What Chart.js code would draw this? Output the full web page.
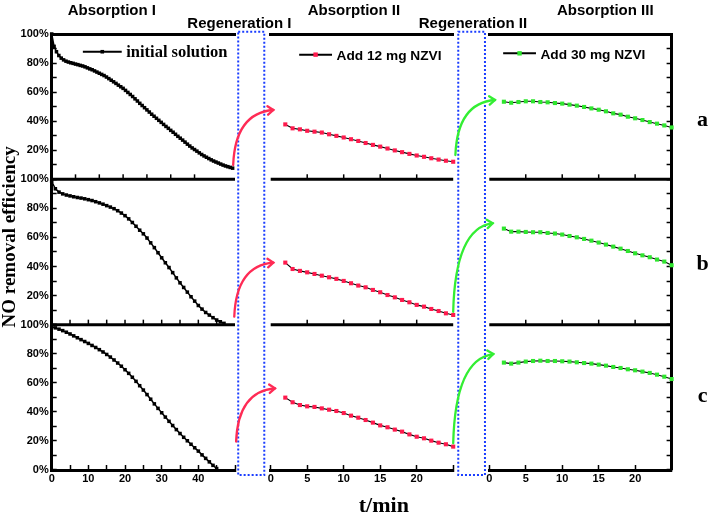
<!DOCTYPE html>
<html><head><meta charset="utf-8">
<script src="https://cdn.jsdelivr.net/npm/chart.js@4.4.0/dist/chart.umd.min.js"></script>
<style>html,body{margin:0;padding:0;background:#fff;}#wrap{position:relative;width:710px;height:523px;}canvas{display:block;}</style>
</head><body><div id="wrap"><canvas id="c" width="710" height="523"></canvas></div>
<script>
// ---------- DATA ----------
const tA1 = [0,1,2,3,4,5,6,7,8,9,10,11,12,13,14,15,16,17,18,19,20,21,22,23,24,25,26,27,28,29,30,31,32,33,34,35,36,37,38,39,40,41,42,43,44,45,46,47,48,49,50,51,52,53,54,55,56,57,58,59,60,61,62,63,64,65,66,67,68,69,70,71,72,73,74,75,76];
const tB1 = [0,1,2,3,4,5,6,7,8,9,10,11,12,13,14,15,16,17,18,19,20,21,22,23,24,25,26,27,28,29,30,31,32,33,34,35,36,37,38,39,40,41,42,43,44,45,46,47];
const tC1 = [0,1,2,3,4,5,6,7,8,9,10,11,12,13,14,15,16,17,18,19,20,21,22,23,24,25,26,27,28,29,30,31,32,33,34,35,36,37,38,39,40,41,42,43,44,45];
const tSeg = [2,3,4,5,6,7,8,9,10,11,12,13,14,15,16,17,18,19,20,21,22,23,24,25];

// panel a
const aInitial = [100,91.5,87.8,85.2,83.4,82.2,81.3,80.7,80.2,79.8,79.3,78.9,78.4,78.0,77.4,76.7,76.0,75.4,74.6,73.8,73.0,72.2,71.4,70.4,69.3,68.2,67.1,66.0,64.8,63.7,62.6,61.2,59.8,58.4,57.0,55.4,53.9,52.3,50.8,49.3,47.8,46.3,44.8,43.4,42.0,40.6,39.2,37.8,36.4,35.1,33.7,32.4,31.0,29.6,28.3,27.0,25.6,24.2,22.9,21.6,20.5,19.4,18.2,17.1,16.1,15.2,14.3,13.4,12.6,11.9,11.2,10.5,9.8,9.2,8.7,8.2,7.7];
const a12mg = [37.8,35.1,34.4,33.4,32.8,32.2,31.0,29.9,28.8,27.6,26.4,25.0,23.7,22.5,21.2,19.9,18.7,17.5,16.4,15.5,14.5,13.6,12.8,12.1];
const a30mg = [53.4,52.7,53.2,53.7,53.7,53.2,53.0,52.5,52.1,51.4,50.7,49.8,48.8,47.9,46.8,45.4,44.5,43.1,42.0,40.8,39.4,38.3,37.1,35.7];
// panel b
const bInitial = [98.5,93.5,91.2,90.0,89.2,88.6,88.0,87.5,87.1,86.6,86.0,85.4,84.6,83.8,82.9,81.9,80.9,79.8,78.4,76.8,75.0,72.8,70.3,67.7,65.0,62.5,59.6,56.3,53.0,49.5,46.0,42.6,39.3,35.8,32.2,28.8,25.6,22.4,19.2,16.2,13.2,10.7,8.4,6.6,4.8,3.2,2.0,0.9];
const b12mg = [42.7,38.3,37.0,36.0,34.9,33.7,32.6,31.5,30.1,28.5,26.9,25.7,23.9,22.3,20.4,18.8,17.0,15.4,13.6,12.4,10.8,9.4,7.8,6.7];
const b30mg = [66.1,64.0,64.0,63.8,63.6,63.6,63.1,62.7,62.0,61.0,60.1,59.0,57.8,56.5,55.1,53.7,52.3,50.7,49.1,47.7,46.4,44.8,43.4,40.9];
// panel c
const cInitial = [98.5,97.8,96.9,95.9,94.8,93.6,92.3,91.0,89.7,88.4,87.1,85.7,84.3,82.8,81.2,79.5,77.7,75.7,73.6,71.4,69.0,66.5,63.8,61.0,58.0,55.0,51.9,48.7,45.5,42.4,39.4,36.4,33.5,30.6,27.8,25.1,22.5,20.1,17.7,15.3,13.0,10.4,8.0,5.6,3.2,1.0];
const c12mg = [49.8,46.6,44.7,43.8,43.4,42.4,41.5,40.6,39.2,37.4,36.0,34.4,32.6,30.7,29.4,27.8,26.4,24.5,22.9,21.8,20.2,18.8,17.7,16.1];
const c30mg = [73.9,73.2,73.9,74.6,75.0,75.2,75.0,75.0,74.8,74.6,74.1,73.6,73.2,72.5,71.8,70.9,70.2,69.3,68.6,67.7,66.8,65.6,64.2,62.6];

const seriesLabels = ['initial solution', 'Add 12 mg NZVI', 'Add 30 mg NZVI'];
const stageLabels = ['Absorption I', 'Regeneration I', 'Absorption II', 'Regeneration II', 'Absorption III'];
const panelLabels = ['a', 'b', 'c'];
const yTitle = 'NO removal efficiency';
const xTitle = 't/min';

// regeneration arrows: [panel y-axis, from [x-axis, x, y%], to [x-axis, x, y%], series index]
const arrows = [
  ['ya', ['x1', 49.5, 9.8], ['x2', 0.36, 47.7], 1],
  ['ya', ['x2', 25.3, 16.7], ['x3', 0.78, 54.6], 2],
  ['yb', ['x1', 49.8, 5.5], ['x2', 0.36, 42.7], 1],
  ['yb', ['x2', 25.0, 8.9], ['x3', 0.47, 69.8], 2],
  ['yc', ['x1', 50.3, 19.5], ['x2', 0.59, 56.2], 1],
  ['yc', ['x2', 25.0, 18.4], ['x3', 0.55, 79.8], 2]
];

// ---------- STYLE ----------
const SANS = "'Liberation Sans', Arial, sans-serif";
const SERIF = "'Liberation Serif', 'Times New Roman', serif";
const TICK_FONT = {family: SANS, weight: 'bold', size: 11};
const MARK = ['#000000', '#ff1a4d', '#2ee62e'];
const ARROW = ['#000000', '#ff2b55', '#33ee33'];
const BLUE = '#1a3dff';
const SEGW = [183.3, 35.7, 182.5, 36.1, 182.3];

function leftY(w, showZero) {
  return {type: 'linear', axis: 'y', position: 'left', stack: 'L', stackWeight: 1, weight: w, min: 0, max: 100,
    border: {display: true, color: '#000', width: 3},
    grid: {display: true, drawOnChartArea: false, drawTicks: true, tickLength: -5, tickWidth: 1.5, tickColor: '#000'},
    ticks: {stepSize: 10, autoSkip: false, padding: 8, color: '#000', font: TICK_FONT,
      callback: v => { const r = Math.round(v); return (r % 20 === 0 && (r > 0 || showZero)) ? r + '%' : ''; }},
    afterFit: s => { s.width = 40; }};
}
function rightY(w) {
  return {type: 'linear', axis: 'y', position: 'right', stack: 'R', stackWeight: 1, weight: w, min: 0, max: 100,
    border: {display: true, color: '#000', width: 3},
    grid: {display: true, drawOnChartArea: false, drawTicks: true, tickLength: -5, tickWidth: 1.5, tickColor: '#000'},
    ticks: {display: false, stepSize: 10, autoSkip: false},
    afterFit: s => { s.width = 0; }};
}
function bottomX(w, sw, max, labelStep) {
  return {type: 'linear', axis: 'x', position: 'bottom', stack: 'B', stackWeight: sw, weight: w, min: 0, max: max,
    border: {display: true, color: '#000', width: 3},
    grid: {display: true, drawOnChartArea: false, drawTicks: true, tickLength: -5, tickWidth: 1.5, tickColor: '#000'},
    ticks: {stepSize: 5, autoSkip: false, maxRotation: 0, padding: 7, color: '#000', font: TICK_FONT,
      callback: v => { const r = Math.round(v); return (r % labelStep === 0 && r < max) ? String(r) : ''; }},
    afterFit: s => { s.height = 24; }};
}
function topX(w, sw, max, step) {
  return {type: 'linear', axis: 'x', position: 'top', stack: 'T', stackWeight: sw, weight: w, min: 0, max: max,
    border: {display: true, color: '#000', width: 3},
    grid: {display: false}, ticks: {display: false, stepSize: step, autoSkip: false},
    afterFit: s => { s.height = 0; }};
}
function gapX(pos, w, sw) {
  return {type: 'linear', axis: 'x', position: pos, stack: pos === 'top' ? 'T' : 'B', stackWeight: sw, weight: w, min: 0, max: 1,
    border: {display: false}, grid: {display: false}, ticks: {display: false},
    afterFit: s => { s.height = pos === 'top' ? 0 : 24; }};
}

function series(xId, yId, times, vals, k) {
  const pts = [];
  for (let i = 0; i < Math.min(times.length, vals.length); i++) pts.push({x: times[i], y: vals[i]});
  return {label: seriesLabels[k], xAxisID: xId, yAxisID: yId, data: pts,
    borderColor: '#000', borderWidth: k === 0 ? 1.5 : 1.1, tension: 0, fill: false, clip: false,
    pointStyle: 'rect', pointRadius: k === 0 ? 2.5 : 2.9, pointBackgroundColor: MARK[k],
    pointBorderColor: MARK[k], pointBorderWidth: 0};
}

const datasets = [
  series('x1a', 'ya', tA1, aInitial, 0), series('x2', 'ya', tSeg, a12mg, 1), series('x3', 'ya', tSeg, a30mg, 2),
  series('x1', 'yb', tB1, bInitial, 0), series('x2', 'yb', tSeg, b12mg, 1), series('x3', 'yb', tSeg, b30mg, 2),
  series('x1', 'yc', tC1, cInitial, 0), series('x2', 'yc', tSeg, c12mg, 1), series('x3', 'yc', tSeg, c30mg, 2)
];

const decor = {
  id: 'decor',
  beforeDatasetsDraw(chart) {
    const {ctx, scales: s} = chart;
    ctx.save();
    ctx.strokeStyle = '#000';
    [['ya', ['x1a', 'x2', 'x3']], ['yb', ['x1', 'x2', 'x3']]].forEach(([yId, xIds]) => {
      const y = s[yId].getPixelForValue(0);
      xIds.forEach(xId => {
        const xs = s[xId];
        ctx.lineWidth = 3;
        ctx.beginPath(); ctx.moveTo(xs.left, y); ctx.lineTo(xs.right, y); ctx.stroke();
        ctx.lineWidth = 1.5;
        xs.ticks.forEach(t => {
          if (t.value <= xs.min || t.value >= xs.max) return;
          const x = xs.getPixelForValue(t.value);
          ctx.beginPath(); ctx.moveTo(x, y); ctx.lineTo(x, y - 5); ctx.stroke();
        });
      });
    });
    ctx.restore();
  },
  afterDatasetsDraw(chart) {
    const {ctx, scales: s, chartArea: ca} = chart;
    ctx.save();
    // regeneration boxes
    ctx.setLineDash([2, 2]);
    ctx.strokeStyle = BLUE; ctx.lineWidth = 2;
    [['gap1', 0.09, 0.82], ['gap2', 0.14, 0.88]].forEach(([g, f0, f1]) => {
      const gs = s[g];
      const l = gs.getPixelForValue(f0), r = gs.getPixelForValue(f1);
      ctx.strokeRect(l, ca.top - 2.3, r - l, ca.bottom - ca.top + 7.3);
    });
    ctx.setLineDash([]);
    // arrows
    arrows.forEach(([yId, from, to, k]) => {
      const ys = s[yId];
      const sx = s[from[0]].getPixelForValue(from[1]), sy = ys.getPixelForValue(from[2]);
      const ex = s[to[0]].getPixelForValue(to[1]), ey = ys.getPixelForValue(to[2]);
      const dx = ex - sx, dy = sy - ey;
      const c1x = sx + 0.03 * dx, c1y = sy - 0.55 * dy;
      const c2x = sx + 0.3 * dx, c2y = ey + 0.04 * dy;
      ctx.strokeStyle = ARROW[k]; ctx.lineWidth = 2.3; ctx.lineCap = 'round';
      ctx.beginPath(); ctx.moveTo(sx, sy); ctx.bezierCurveTo(c1x, c1y, c2x, c2y, ex, ey); ctx.stroke();
      const ang = Math.atan2(ey - c2y, ex - c2x);
      const L = 7, A = 0.65;
      ctx.beginPath();
      ctx.moveTo(ex - L * Math.cos(ang - A), ey - L * Math.sin(ang - A));
      ctx.lineTo(ex, ey);
      ctx.lineTo(ex - L * Math.cos(ang + A), ey - L * Math.sin(ang + A));
      ctx.stroke();
    });
    ctx.restore();
  },
  afterDraw(chart) {
    const {ctx, scales: s, chartArea: ca} = chart;
    ctx.save();
    ctx.fillStyle = '#000';
    // stage headers
    ctx.font = 'bold 15px ' + SANS;
    ctx.textAlign = 'center'; ctx.textBaseline = 'alphabetic';
    [['x1', 16.4, -19], ['x1', 51.2, -6], ['x2', 11.4, -19], ['x2', 27.7, -6], ['x3', 15.9, -19]].forEach(([ax, v, dy], i) => {
      ctx.fillText(stageLabels[i], s[ax].getPixelForValue(v), ca.top + dy);
    });
    // legends
    [['x1', 8.5, 19.1, 87.8, 'bold 16.5px ' + SERIF], ['x2', 3.9, 8.4, 85.8, 'bold 13.7px ' + SANS], ['x3', 1.9, 6.4, 86.7, 'bold 13.7px ' + SANS]].forEach(([ax, f, t, yv, font], k) => {
      const x0 = s[ax].getPixelForValue(f), x1 = s[ax].getPixelForValue(t), y = s.ya.getPixelForValue(yv);
      ctx.strokeStyle = '#000'; ctx.lineWidth = 2;
      ctx.beginPath(); ctx.moveTo(x0, y); ctx.lineTo(x1, y); ctx.stroke();
      ctx.fillStyle = MARK[k];
      const m = k === 0 ? 3.6 : 4.4;
      ctx.fillRect((x0 + x1) / 2 - m / 2, y - m / 2, m, m);
      ctx.fillStyle = '#000'; ctx.font = font; ctx.textAlign = 'left'; ctx.textBaseline = 'alphabetic';
      ctx.fillText(seriesLabels[k], x1 + 4.5, y + 5.2);
    });
    // panel letters
    ctx.font = 'bold 22px ' + SERIF; ctx.textAlign = 'center'; ctx.textBaseline = 'alphabetic';
    [['ya', 36.7], ['yb', 37.6], ['yc', 46.8]].forEach(([yId, v], i) => {
      ctx.fillText(panelLabels[i], ca.right + 31, s[yId].getPixelForValue(v));
    });
    // axis titles
    ctx.font = 'bold 22px ' + SERIF; ctx.textBaseline = 'middle';
    ctx.fillText(xTitle, s.x2.getPixelForValue(15.5), ca.bottom + 36);
    ctx.save();
    ctx.translate(ca.left - 42, s.yb.getPixelForValue(60.4));
    ctx.rotate(-Math.PI / 2);
    ctx.font = 'bold 19px ' + SERIF;
    ctx.fillText(yTitle, 0, 0);
    ctx.restore();
    ctx.restore();
  }
};

new Chart(document.getElementById('c'), {
  type: 'line',
  data: {datasets},
  options: {
    responsive: false, animation: false, events: [],
    layout: {padding: {left: 11.7, right: 38.4, top: 34, bottom: 29}},
    plugins: {legend: {display: false}, tooltip: {enabled: false}, title: {display: false}},
    scales: {
      ya: leftY(3, false), yb: leftY(2, false), yc: leftY(1, true),
      yaR: rightY(1), ybR: rightY(2), ycR: rightY(3),
      x1: bottomX(1, SEGW[0], 50, 10), gap1: gapX('bottom', 2, SEGW[1]), x2: bottomX(3, SEGW[2], 25, 5),
      gap2: gapX('bottom', 4, SEGW[3]), x3: bottomX(5, SEGW[4], 25, 5),
      x1a: topX(5, SEGW[0], 77, 10), gapT1: gapX('top', 4, SEGW[1]), x2t: topX(3, SEGW[2], 25, 5),
      gapT2: gapX('top', 2, SEGW[3]), x3t: topX(1, SEGW[4], 25, 5)
    }
  },
  plugins: [decor]
});
</script>
</body></html>
